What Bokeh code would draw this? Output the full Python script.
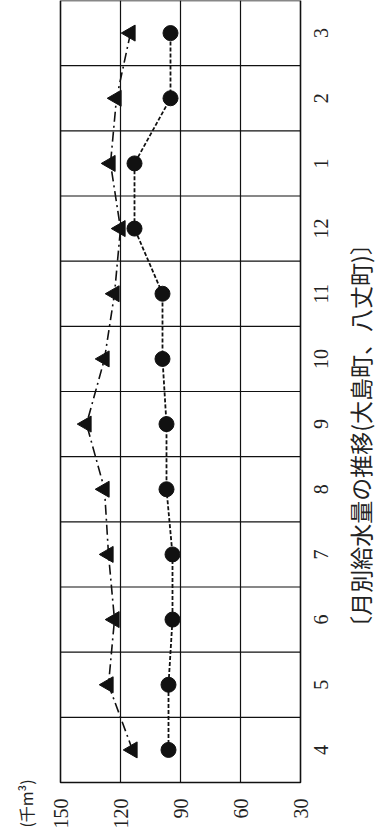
import math
from bokeh.plotting import figure
from bokeh.models import Range1d, ColumnDataSource
from bokeh.core.properties import value
from bokeh.embed import file_html
from bokeh.resources import INLINE

# ---- data ----
months = ["4", "5", "6", "7", "8", "9", "10", "11", "12", "1", "2", "3"]
series_circle = [96, 96, 94, 94, 97, 97, 99, 99, 113, 113, 95, 95]
series_triangle = [114, 126, 123, 126, 128, 137, 128, 123, 120, 125, 122, 115]
value_ticks = [150, 120, 90, 60, 30]
tick_labels = ["150", "120", "90", "60", "30"]
title_text = "〔月別給水量の推移(大島町、八丈町)〕"
unit_text = "(千m³)"

pos = list(range(1, len(months) + 1))
vmax, vmin = max(value_ticks), min(value_ticks)
y_lo, y_hi = 0.5, len(months) + 0.5

# plot area: 240 px for the value span, 782 px for the month span
W, H = 382, 834
FL, FW, FH = 60, 240, 782
ppx = FW / (vmax - vmin)
ppy = FH / (y_hi - y_lo)
x_start = vmax + FL / ppx
x_end = x_start - W / ppx
y_start = y_hi - H / ppy

p = figure(width=W, height=H, output_backend="svg", toolbar_location=None,
           x_range=Range1d(x_start, x_end), y_range=Range1d(y_start, y_hi),
           min_border=0)
p.axis.visible = False
p.grid.visible = False
p.outline_line_color = None
p.background_fill_color = "white"
p.border_fill_color = "white"

ink = "#111111"

# inner grid lines
inner = value_ticks[1:-1]
p.segment(x0=inner, y0=[y_lo] * len(inner), x1=inner, y1=[y_hi] * len(inner),
          line_color=ink, line_width=1.2)
hb = [i + 0.5 for i in pos[:-1]]
p.segment(x0=[vmax] * len(hb), y0=hb, x1=[vmin] * len(hb), y1=hb,
          line_color=ink, line_width=1.2)
# frame
p.quad(left=[vmax], right=[vmin], bottom=[y_lo], top=[y_hi],
       fill_color=None, line_color=ink, line_width=1.6)

src = ColumnDataSource(dict(y=pos, c=series_circle, t=series_triangle))
p.line("t", "y", source=src, line_color=ink, line_width=1.6, line_dash="10 4 2 4")
p.line("c", "y", source=src, line_color=ink, line_width=1.8, line_dash="4 2")
p.scatter("t", "y", source=src, marker="triangle", angle=math.pi / 2, size=16,
          fill_color=ink, line_color=ink)
p.scatter("c", "y", source=src, marker="circle", size=15,
          fill_color=ink, line_color=ink)

# value tick labels (below the frame, rotated)
p.text(x=value_ticks, y=[y_lo] * len(value_ticks), text=tick_labels,
       y_offset=16, angle=math.pi / 2, text_align="right", text_baseline="middle",
       text_font=value("Liberation Serif"), text_font_size="20px", text_color="#222222")

# month tick labels (right of the frame, rotated)
p.text(x=[vmin] * len(months), y=pos, text=months,
       x_offset=13, angle=math.pi / 2, text_align="center", text_baseline="top",
       text_font=value("Liberation Serif"), text_font_size="20px", text_color="#222222")

# caption
p.text(x=[vmin], y=[(y_lo + y_hi) / 2], text=[title_text],
       x_offset=59, y_offset=44, angle=math.pi / 2, text_align="center", text_baseline="middle",
       text_font=value("Noto Sans CJK JP"), text_font_size="23px", text_color="#222222")

# unit
p.text(x=[vmax], y=[y_lo], text=[unit_text],
       x_offset=-35, y_offset=21, angle=math.pi / 2, text_align="center", text_baseline="middle",
       text_font=value("Noto Sans CJK JP"), text_font_size="16px", text_color="#222222")

open("out.html", "w").write(file_html(p, INLINE))
